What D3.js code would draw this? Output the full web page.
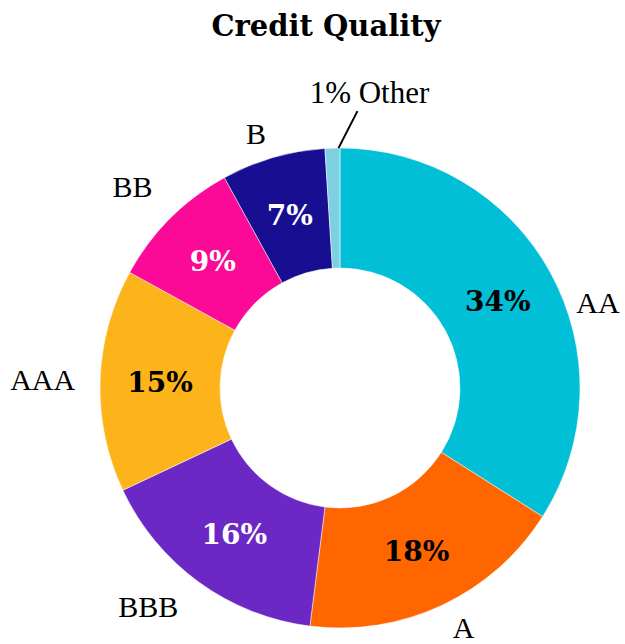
<!DOCTYPE html>
<html><head><meta charset="utf-8">
<script src="https://cdn.jsdelivr.net/npm/d3@7"></script>
<style>body{margin:0;background:#fff}</style>
</head><body>
<svg id="chart" width="625" height="644"></svg>
<script>
const categories = ["AA", "A", "BBB", "AAA", "BB", "B", "Other"];
const values = [34, 18, 16, 15, 9, 7, 1];
const colors = ["#00BFD6", "#FF6600", "#6C28C4", "#FDB31A", "#FA0A96", "#180E91", "#7ECFE0"];
const pctColors = ["#000", "#000", "#fff", "#000", "#fff", "#fff", "#000"];
const title = "Credit Quality";

const svg = d3.select("#chart");
const cx = 340, cy = 388, outerR = 240, innerR = 120, labelR = 265;

svg.append("text").attr("x", 326).attr("y", 36).attr("text-anchor", "middle")
  .attr("font-family", "DejaVu Serif").attr("font-weight", "bold").attr("font-size", 29)
  .text(title);

const data = categories.map((c, i) => ({cat: c, value: values[i], color: colors[i], pc: pctColors[i]}));
const pie = d3.pie().value(d => d.value).sort(null);
const arcs = pie(data);
const arc = d3.arc().innerRadius(innerR).outerRadius(outerR);
const g = svg.append("g").attr("transform", `translate(${cx},${cy})`);

g.selectAll("path").data(arcs).join("path")
  .attr("d", arc).attr("fill", d => d.data.color)
  .attr("stroke", "#fff").attr("stroke-width", 0.5);

// percent labels
g.selectAll("text.pct").data(arcs.filter(d => d.data.value >= 5)).join("text")
  .attr("class", "pct")
  .attr("transform", d => `translate(${arc.centroid(d)})`)
  .attr("text-anchor", "middle").attr("dy", "0.36em")
  .attr("font-family", "DejaVu Serif").attr("font-weight", "bold").attr("font-size", 28)
  .attr("fill", d => d.data.pc)
  .text(d => d.data.value + "%");

// category labels
const nudge = {AA: [4, 42], BB: [0, -14], BBB: [-6, 4]};
g.selectAll("text.cat").data(arcs.filter(d => d.data.value >= 5)).join("text")
  .attr("class", "cat")
  .each(function(d) {
    const a = (d.startAngle + d.endAngle) / 2;
    const s = Math.sin(a);
    let x = labelR * s, y = -labelR * Math.cos(a);
    const n = nudge[d.data.cat] || [0, 0];
    x += n[0]; y += n[1];
    d3.select(this).attr("x", x).attr("y", y)
      .attr("text-anchor", s > 0.2 ? "start" : (s < -0.2 ? "end" : "middle"));
  })
  .attr("dy", "0.35em")
  .attr("font-family", "Liberation Serif").attr("font-size", 30)
  .attr("fill", "#000")
  .text(d => d.data.cat);

// small slice with leader line
arcs.filter(d => d.data.value < 5).forEach(d => {
  const a = (d.startAngle + d.endAngle) / 2;
  const p0 = [outerR * Math.sin(a) + 6, -outerR * Math.cos(a)];
  const p1 = [p0[0] + 19, p0[1] - 37];
  g.append("line").attr("x1", p0[0]).attr("y1", p0[1]).attr("x2", p1[0]).attr("y2", p1[1])
    .attr("stroke", "#000").attr("stroke-width", 2);
  g.append("text").attr("x", p1[0] + 12).attr("y", p1[1] - 8).attr("text-anchor", "middle")
    .attr("font-family", "Liberation Serif").attr("font-size", 31)
    .text(d.data.value + "% " + d.data.cat);
});
</script>
</body></html>
